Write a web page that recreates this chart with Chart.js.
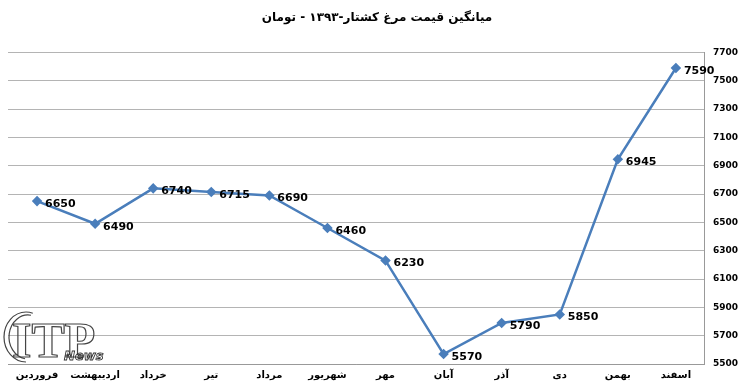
<!DOCTYPE html>
<html>
<head>
<meta charset="utf-8">
<script src="https://cdn.jsdelivr.net/npm/chart.js@4"></script>
<style>
  html, body { margin: 0; padding: 0; background: #fff; }
  #wrap { width: 750px; height: 382px; }
</style>
</head>
<body>
<div id="wrap"><canvas id="myChart" width="750" height="382"></canvas></div>
<script>
var months = ['فروردین', 'اردیبهشت', 'خرداد', 'تیر', 'مرداد', 'شهریور', 'مهر', 'آبان', 'آذر', 'دی', 'بهمن', 'اسفند'];
var prices = [6650, 6490, 6740, 6715, 6690, 6460, 6230, 5570, 5790, 5850, 6945, 7590];
var chartTitle = 'میانگین قیمت مرغ کشتار-۱۳۹۳ - تومان';

// value labels next to each point
var valueLabels = {
  id: 'valueLabels',
  afterDatasetsDraw: function (chart) {
    var c = chart.ctx;
    var meta = chart.getDatasetMeta(0);
    c.save();
    c.font = 'bold 11px "DejaVu Sans"';
    c.fillStyle = '#000';
    c.textAlign = 'left';
    c.textBaseline = 'middle';
    meta.data.forEach(function (pt, i) {
      c.fillText(String(prices[i]), pt.x + 8, pt.y + 3);
    });
    c.restore();
  }
};

// rough watermark logo
var logo = {
  id: 'logo',
  beforeDatasetsDraw: function (chart) {
    var c = chart.ctx;
    c.save();
    c.strokeStyle = '#444';
    c.lineWidth = 1.2;
    c.font = 'bold 50px "Liberation Serif"';
    c.textBaseline = 'alphabetic';
    c.strokeText('ITP', 12, 357);
    c.beginPath();
    c.ellipse(26, 337, 22, 25, 0, Math.PI * 0.5, Math.PI * 1.6);
    c.stroke();
    c.beginPath();
    c.ellipse(28, 337, 19, 22, 0, Math.PI * 0.55, Math.PI * 1.55);
    c.stroke();
    c.font = 'italic bold 13px "DejaVu Sans"';
    c.strokeStyle = '#333';
    c.lineWidth = 0.9;
    c.strokeText('News', 64, 360);
    c.restore();
  }
};

const ctx = document.getElementById('myChart').getContext('2d');
var myChart = new Chart(ctx, {
  type: 'line',
  data: {
    labels: months,
    datasets: [{
      data: prices,
      borderColor: '#4a7ebb',
      backgroundColor: '#4a7ebb',
      borderWidth: 2.5,
      pointStyle: 'rectRot',
      pointRadius: 3.5,
      tension: 0
    }]
  },
  options: {
    responsive: false,
    animation: false,
    layout: { padding: { left: 8, right: 4, top: 0, bottom: -4 } },
    plugins: {
      legend: { display: false },
      tooltip: { enabled: false },
      title: {
        display: true,
        text: chartTitle,
        color: '#000',
        font: { family: 'DejaVu Sans', size: 12, weight: 'bold' },
        padding: { top: 11, bottom: 27 }
      }
    },
    scales: {
      x: {
        offset: true,
        grid: { display: false, drawTicks: false, tickLength: 0 },
        border: { display: true, color: '#999' },
        ticks: {
          color: '#000',
          padding: 5,
          maxRotation: 0,
          font: { family: 'DejaVu Sans', size: 10, weight: 'bold' }
        }
      },
      y: {
        position: 'right',
        min: 5500,
        max: 7700,
        ticks: {
          stepSize: 200,
          color: '#000',
          padding: 8,
          font: { family: 'DejaVu Sans', size: 9, weight: 'bold' },
          callback: function (v) { return String(v); }
        },
        grid: { color: '#b4b4b4', lineWidth: 1, drawTicks: false },
        border: { display: true, color: '#999' }
      }
    }
  },
  plugins: [valueLabels, logo]
});
</script>
</body>
</html>
